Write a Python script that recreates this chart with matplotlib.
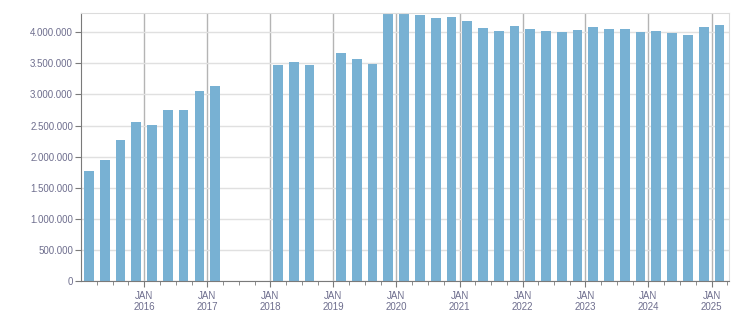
import datetime as dt
import matplotlib
matplotlib.use("Agg")
import matplotlib.pyplot as plt
import matplotlib.dates as mdates
from matplotlib.ticker import FuncFormatter, MultipleLocator, FixedLocator

# quarterly values, Q1 2015 .. Q1 2025 (None = no data)
years = [2015 + i // 4 for i in range(41)]
quarters = [i % 4 + 1 for i in range(41)]
values = [
    1769000, 1946000, 2268000, 2558000,   # 2015
    2509000, 2751000, 2751000, 3056000,   # 2016
    3137000, None, None, None,            # 2017
    3475000, 3523000, 3475000, None,      # 2018
    3668000, 3571000, 3491000, 4295000,   # 2019
    4295000, 4279000, 4231000, 4247000,   # 2020
    4182000, 4070000, 4021000, 4102000,   # 2021
    4054000, 4021000, 4005000, 4038000,   # 2022
    4086000, 4054000, 4054000, 4005000,   # 2023
    4021000, 3989000, 3957000, 4086000,   # 2024
    4118000,                              # 2025
]
label_years = list(range(2016, 2026))

bar_color = "#78b1d3"
text_color = "#6e6e8e"

fig = plt.figure(figsize=(7.51, 3.13), dpi=100)
ax = fig.add_axes([0.1083, 0.1022, 0.8620, 0.8553])

xs, hs = [], []
for y, q, v in zip(years, quarters, values):
    if v is None:
        continue
    start = dt.date(y, 3 * q - 2, 1)
    xs.append(mdates.date2num(start) + 45.6)
    hs.append(v)

ax.bar(xs, hs, width=57, color=bar_color, zorder=2)

ax.set_xlim(mdates.date2num(dt.date(2015, 1, 1)), mdates.date2num(dt.date(2025, 4, 10)))
ax.set_ylim(0, 4306000)

ax.xaxis.set_major_locator(FixedLocator([mdates.date2num(dt.date(y, 1, 1)) for y in label_years]))
ax.xaxis.set_major_formatter(FuncFormatter(lambda x, p: "JAN\n" + str(mdates.num2date(x).year)))
ax.xaxis.set_minor_locator(mdates.MonthLocator(bymonth=[4, 7, 10]))
ax.yaxis.set_major_locator(MultipleLocator(500000))
ax.yaxis.set_major_formatter(FuncFormatter(lambda v, p: f"{int(v):,}".replace(",", ".")))

ax.grid(axis="y", color="#e0e0e0", linewidth=1, zorder=0)
ax.grid(axis="x", which="major", color="#b4b4b4", linewidth=1, zorder=1)
ax.set_axisbelow(True)

for s in ["top", "right"]:
    ax.spines[s].set_color("#dcdcdc")
for s in ["left", "bottom"]:
    ax.spines[s].set_color("#7a7a7a")

ax.tick_params(axis="both", which="both", colors="#7a7a7a", labelcolor=text_color, labelsize=7)
ax.tick_params(axis="x", which="major", length=4, pad=3)
ax.tick_params(axis="x", which="minor", length=3)
ax.tick_params(axis="y", length=4, pad=2)
for lab in ax.get_xticklabels() + ax.get_yticklabels():
    lab.set_family("Liberation Sans")

fig.savefig("out.png", dpi=100)
